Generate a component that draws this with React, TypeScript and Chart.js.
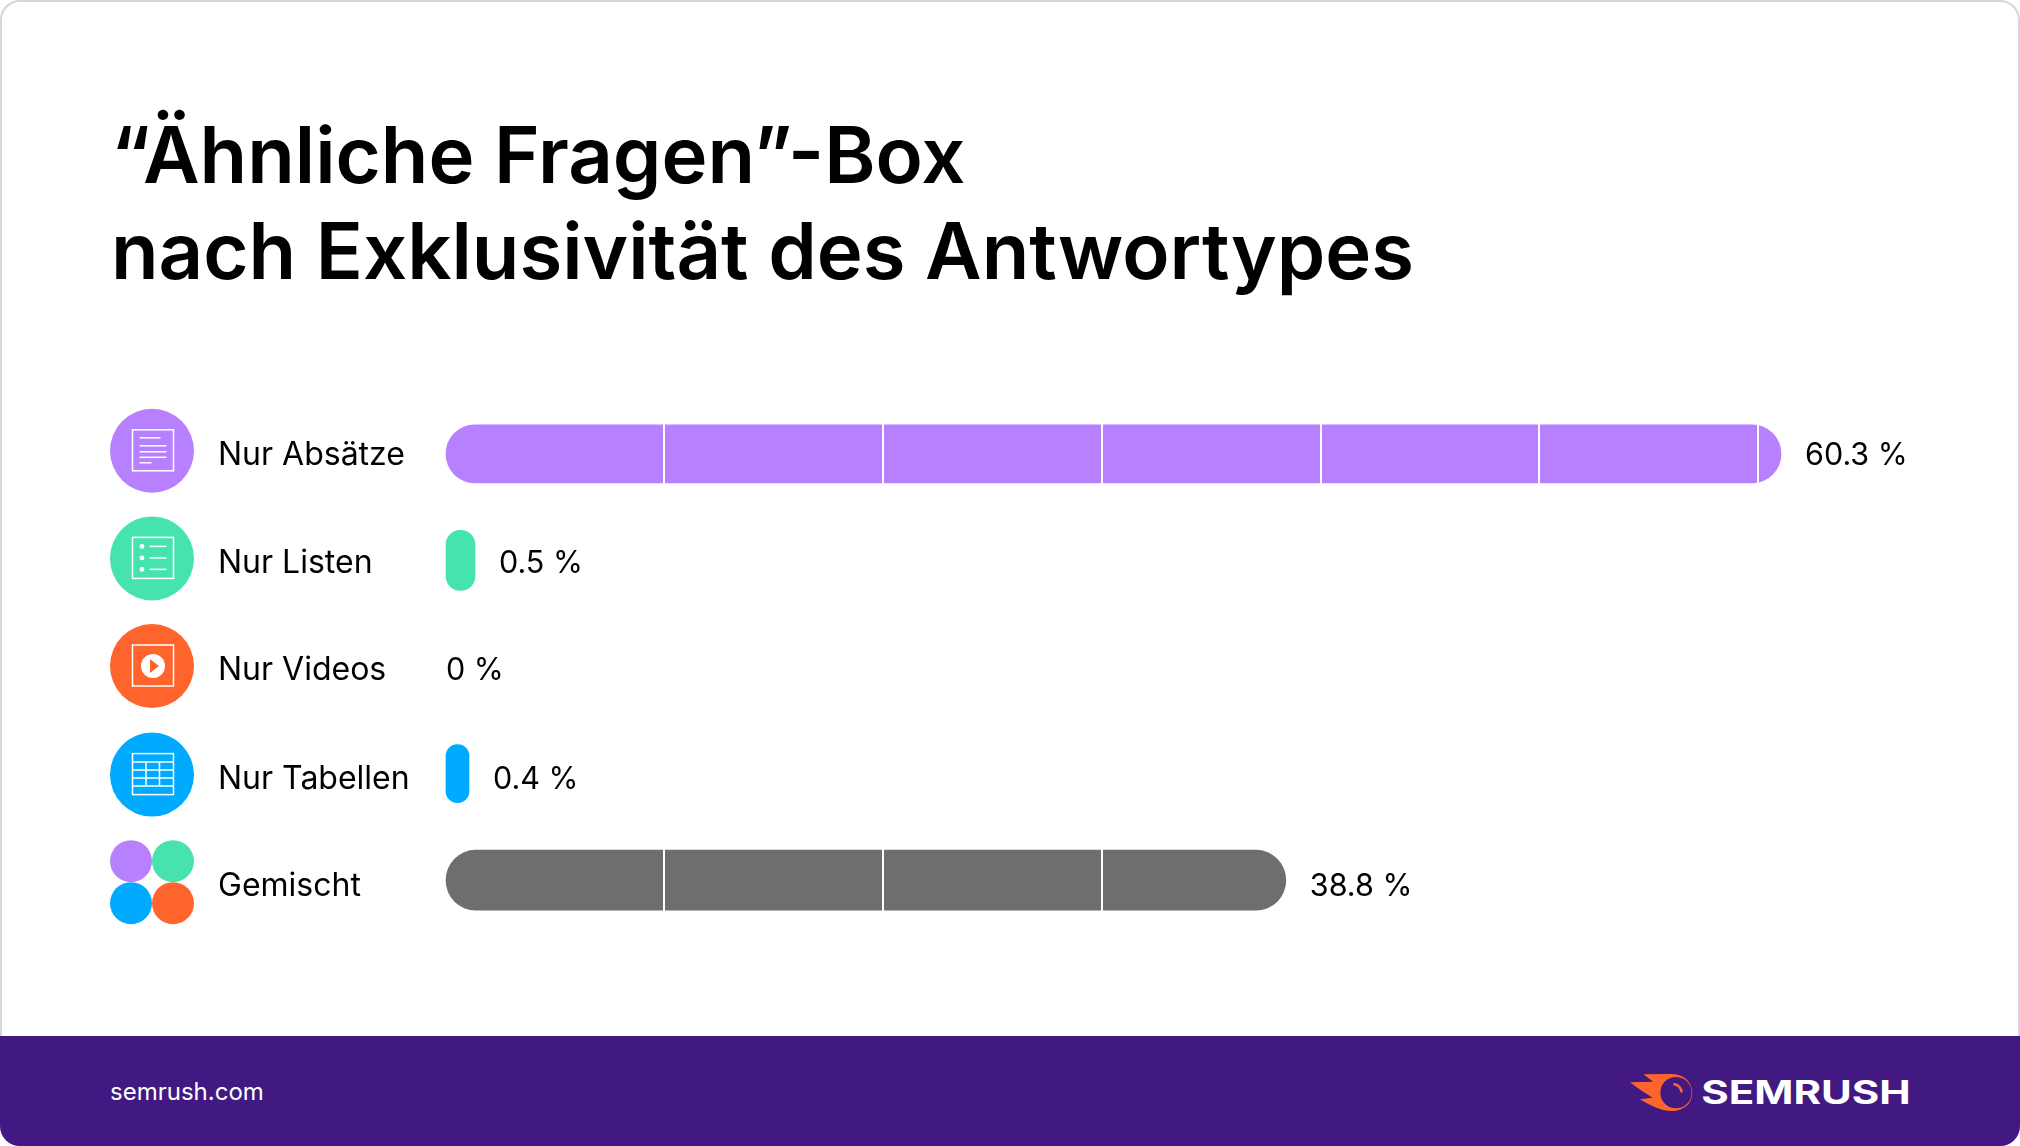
import React, { useEffect, useRef } from "react";
import { Chart, registerables } from "chart.js";

Chart.register(...registerables);

const titleLines = ["“Ähnliche Fragen”-Box", "nach Exklusivität des Antwortypes"];
const categories = ["Nur Absätze", "Nur Listen", "Nur Videos", "Nur Tabellen", "Gemischt"];
const shares = [60.3, 0.5, 0, 0.4, 38.8];
const valueLabels = ["60.3 %", "0.5 %", "0 %", "0.4 %", "38.8 %"];
const colors = ["#B680FF", "#47E3AE", "#FF642D", "#00AAFF", "#6E6E6E"];
const thickness = [58, 60, 58, 58, 60];
const minLengths = [1336, 30, undefined, 24, undefined];
const labelOffsets = [0, 1.5, 2, 4, 5];
const iconOffsets = [-3, -2, -1, 1, 2];

const FONT = "Inter, 'Noto Sans', sans-serif";

function drawIcon(ctx: CanvasRenderingContext2D, i: number, cx: number, cy: number) {
  const R = 42;
  const disc = (x: number, y: number, r: number, c: string) => {
    ctx.fillStyle = c;
    ctx.beginPath();
    ctx.arc(x, y, r, 0, Math.PI * 2);
    ctx.fill();
  };
  if (i === 4) {
    disc(cx - 21, cy - 21, 21, colors[0]);
    disc(cx + 21, cy - 21, 21, colors[1]);
    disc(cx - 21, cy + 21, 21, colors[3]);
    disc(cx + 21, cy + 21, 21, colors[2]);
    return;
  }
  disc(cx, cy, R, colors[i]);
  ctx.strokeStyle = "#ffffff";
  ctx.lineWidth = 1.5;
  const left = cx - 19.5;
  const top = cy - 21;
  ctx.strokeRect(left, top, 41, 41);
  const line = (x1: number, y1: number, x2: number, y2: number) => {
    ctx.beginPath();
    ctx.moveTo(left + x1, top + y1);
    ctx.lineTo(left + x2, top + y2);
    ctx.stroke();
  };
  if (i === 0) {
    line(7, 8, 28, 8);
    line(7, 16, 34, 16);
    line(7, 22, 34, 22);
    line(7, 27.5, 34, 27.5);
    line(7, 33, 19, 33);
  } else if (i === 1) {
    [9, 20.5, 32].forEach((y) => {
      disc(left + 9.5, top + y, 2.4, "#ffffff");
      line(17, y, 34, y);
    });
  } else if (i === 2) {
    disc(cx + 1, cy, 12, "#ffffff");
    ctx.fillStyle = colors[2];
    ctx.beginPath();
    ctx.moveTo(cx - 2, cy - 7);
    ctx.lineTo(cx + 7, cy);
    ctx.lineTo(cx - 2, cy + 7);
    ctx.closePath();
    ctx.fill();
  } else {
    [8.5, 16.5, 24.5, 32.5].forEach((y) => line(0, y, 41, y));
    [13.5, 27].forEach((x) => line(x, 8.5, x, 32.5));
  }
}

const rowDecor = {
  id: "rowDecor",
  afterDraw(chart: any) {
    const { ctx, scales } = chart;
    const y = scales.y;
    ctx.save();
    ctx.textBaseline = "alphabetic";
    ctx.textAlign = "left";
    categories.forEach((name, i) => {
      const rowY = y.getPixelForValue(i);
      drawIcon(ctx, i, 152, rowY + iconOffsets[i]);
      ctx.fillStyle = "#000000";
      ctx.font = `400 32px ${FONT}`;
      ctx.fillText(name, 218, rowY + labelOffsets[i] + 11);
      const bar = chart.getDatasetMeta(i).data[i];
      const gap = shares[i] === 0 ? 1 : 24;
      ctx.font = `400 30.5px ${FONT}`;
      ctx.fillText(valueLabels[i], bar.x + gap, rowY + labelOffsets[i] + 11);
    });
    ctx.restore();
  },
};

export default function App() {
  const ref = useRef<HTMLCanvasElement | null>(null);
  useEffect(() => {
    const chart = new Chart(ref.current as HTMLCanvasElement, {
      type: "bar",
      data: {
        labels: categories,
        datasets: categories.map((name, i) => ({
          label: name,
          data: shares.map((v, j) => (j === i ? v : null)),
          backgroundColor: shares[i] === 0 ? "rgba(0,0,0,0)" : colors[i],
          barThickness: thickness[i],
          minBarLength: minLengths[i],
          borderRadius: 999,
          borderSkipped: false,
          grouped: false,
        })),
      } as any,
      options: {
        indexAxis: "y",
        animation: false,
        responsive: false,
        devicePixelRatio: 1,
        layout: { padding: { top: 112, left: 111, right: 120, bottom: 212.5 } },
        plugins: {
          legend: { display: false },
          tooltip: { enabled: false },
          title: {
            display: true,
            text: titleLines,
            align: "start",
            color: "#000000",
            font: { family: FONT, size: 77.8, weight: "600", lineHeight: 95.5 / 77.8 },
            padding: { top: 0, bottom: 97.5 },
          },
        },
        scales: {
          x: {
            type: "linear",
            min: 0,
            max: 67.14,
            border: { display: false },
            ticks: { display: false, stepSize: 10.1, includeBounds: false },
            grid: {
              z: 1,
              lineWidth: 2,
              drawTicks: false,
              color: (c: any) => (c.tick && c.tick.value > 0 ? "#ffffff" : "rgba(0,0,0,0)"),
            },
          },
          y: {
            type: "category",
            border: { display: false },
            grid: { display: false },
            ticks: { display: false },
            afterFit: (s: any) => {
              s.width = 334;
            },
          },
        },
      } as any,
      plugins: [rowDecor],
    });
    return () => chart.destroy();
  }, []);

  return (
    <div style={{ position: "fixed", left: 0, top: 0, width: 2020, height: 1146, background: "#fff", overflow: "hidden" }}>
      <div
        style={{
          position: "absolute",
          inset: 0,
          boxSizing: "border-box",
          border: "2px solid #D4D6E2",
          borderRadius: 20,
        }}
      />
      <div
        style={{
          position: "absolute",
          left: 0,
          top: 1036,
          width: 2020,
          height: 110,
          background: "#421983",
          borderRadius: "0 0 20px 20px",
        }}
      />
      <div
        style={{
          position: "absolute",
          left: 110,
          top: 1076,
          color: "#fff",
          font: `400 24px/32px ${FONT}`,
        }}
      >
        semrush.com
      </div>
      <svg style={{ position: "absolute", left: 1600, top: 1020 }} width={420} height={126} viewBox="0 0 1260 378">
        <path
          d="M130 163 L215 162 C252 162 277 188 277 218 C277 250 250 273 215 273 C180 273 150 255 120 238 L158 233 C135 220 110 203 90 187 L160 185 Z"
          fill="#FF642D"
        />
        <circle cx="228" cy="218" r="47" fill="#421983" />
        <path d="M220 192 C234 194 243 203 245 217" stroke="#FF642D" strokeWidth="8" fill="none" />
        <text x="304" y="253" textLength="628" lengthAdjust="spacingAndGlyphs" fontFamily={FONT} fontWeight="700" fontSize="97" fill="#fff">
          SEMRUSH
        </text>
      </svg>
      <canvas ref={ref} width={2020} height={1146} style={{ position: "absolute", left: 0, top: 0 }} />
    </div>
  );
}
